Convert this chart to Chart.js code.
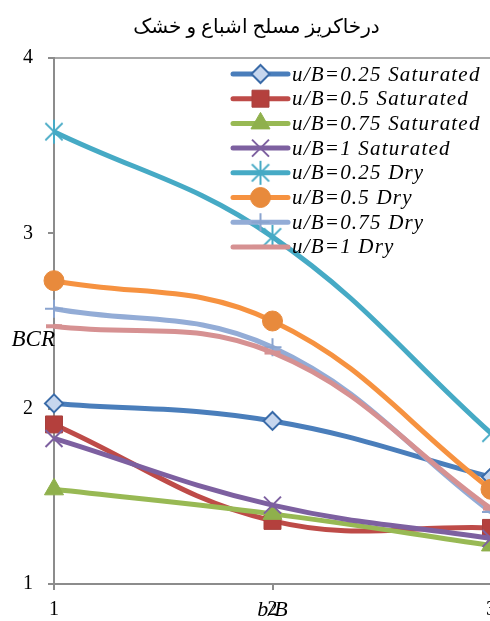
<!DOCTYPE html>
<html>
<head>
<meta charset="utf-8">
<script src="https://cdn.jsdelivr.net/npm/chart.js@4/dist/chart.umd.min.js"></script>
<style>
  html, body { margin: 0; padding: 0; overflow: hidden; background: #fff; width: 490px; height: 621px; }
  canvas { display: block; }
</style>
</head>
<body>
<canvas id="c" width="505" height="621" style="width:505px;height:621px"></canvas>
<script>
// b/B positions on the category axis
const categories = ['1', '2', '3'];
const yTicks = [1, 2, 3, 4];

// BCR values per u/B ratio
const sat025 = [2.03, 1.93, 1.61];
const sat05  = [1.91, 1.36, 1.32];
const sat075 = [1.54, 1.40, 1.22];
const sat1   = [1.83, 1.45, 1.26];
const dry025 = [3.58, 2.98, 1.86];
const dry05  = [2.73, 2.50, 1.54];
const dry075 = [2.57, 2.35, 1.41];
const dry1   = [2.47, 2.32, 1.43];

const seriesNames = [
  'u/B=0.25 Saturated', 'u/B=0.5 Saturated', 'u/B=0.75 Saturated', 'u/B=1 Saturated',
  'u/B=0.25 Dry', 'u/B=0.5 Dry', 'u/B=0.75 Dry', 'u/B=1 Dry'
];
const seriesValues = [sat025, sat05, sat075, sat1, dry025, dry05, dry075, dry1];
const titleText = 'درخاکریز مسلح اشباع و خشک';

// asterisk marker: an X with a vertical bar through it
function makeStar(color, r) {
  const cv = document.createElement('canvas');
  const s = Math.ceil(r * 2 + 4);
  cv.width = s; cv.height = s;
  const g = cv.getContext('2d');
  const c = s / 2, d = r * 0.72;
  g.strokeStyle = color; g.lineWidth = 2; g.lineCap = 'butt';
  g.beginPath();
  g.moveTo(c - d, c - d); g.lineTo(c + d, c + d);
  g.moveTo(c + d, c - d); g.lineTo(c - d, c + d);
  g.moveTo(c, c - r); g.lineTo(c, c + r);
  g.stroke();
  return cv;
}

const styles = [
  { line: '#4A7EBB', fill: '#C6D6EE', border: '#3A6BA8', point: 'rectRot', r: 9, bw: 2 },
  { line: '#BE4B48', fill: '#B4403D', border: '#A8403D', point: 'rect', r: 12, bw: 1 },
  { line: '#98B954', fill: '#8FB04C', border: '#8FB04C', point: 'triangle', r: 11, bw: 1 },
  { line: '#7D60A0', fill: '#7D60A0', border: '#7D60A0', point: 'crossRot', r: 12, bw: 2 },
  { line: '#46AAC5', fill: '#46AAC5', border: '#46AAC5', point: makeStar('#46AAC5', 12), r: 12, bw: 2 },
  { line: '#F69240', fill: '#E88A3C', border: '#E88A3C', point: 'circle', r: 10, bw: 1 },
  { line: '#93ACD6', fill: '#93ACD6', border: '#8AA4CF', point: 'cross', r: 9, bw: 2 },
  { line: '#D69192', fill: '#D69192', border: '#D69192', point: 'line', r: 8, bw: 4 }
];

const datasets = seriesValues.map((vals, i) => ({
  label: seriesNames[i],
  data: vals,
  borderColor: styles[i].line,
  backgroundColor: styles[i].fill,
  borderWidth: 5,
  tension: 0.4,
  pointStyle: styles[i].point,
  pointRadius: styles[i].r,
  pointBackgroundColor: styles[i].fill,
  pointBorderColor: styles[i].border,
  pointBorderWidth: styles[i].bw,
  clip: false,
  order: seriesValues.length - i
}));

const axisGray = '#8C8C8C';

// frame on top/right of the plot, axis captions and the in-plot legend
const decorations = {
  id: 'decorations',
  beforeDatasetsDraw(chart) {
    const { ctx, chartArea: a } = chart;
    ctx.save();
    ctx.strokeStyle = axisGray;
    ctx.lineWidth = 1.5;
    ctx.beginPath();
    ctx.moveTo(a.left, a.top);
    ctx.lineTo(a.right, a.top);
    ctx.lineTo(a.right, a.bottom);
    ctx.stroke();
    ctx.restore();
  },
  afterDatasetsDraw(chart) {
    const { ctx, chartArea: a } = chart;
    const xs = chart.scales.x;
    ctx.save();
    ctx.fillStyle = '#000';
    ctx.font = 'italic 23px "Liberation Serif", serif';
    ctx.textBaseline = 'middle';
    ctx.textAlign = 'right';
    ctx.fillText('BCR', a.left + 1, 340);
    ctx.font = 'italic 22px "Liberation Serif", serif';
    ctx.textAlign = 'center';
    ctx.fillText('b/B', xs.getPixelForValue(1), 610);

    // legend
    const x0 = 233, x1 = 288, tx = 292, y0 = 74, dy = 24.7;
    chart.data.datasets.forEach((ds, i) => {
      const y = y0 + i * dy;
      ctx.strokeStyle = ds.borderColor;
      ctx.lineWidth = 5;
      ctx.lineCap = 'round';
      ctx.beginPath();
      ctx.moveTo(x0, y); ctx.lineTo(x1, y);
      ctx.stroke();
      ctx.lineCap = 'butt';
      ctx.fillStyle = ds.pointBackgroundColor;
      ctx.strokeStyle = ds.pointBorderColor;
      ctx.lineWidth = ds.pointBorderWidth;
      Chart.helpers.drawPoint(ctx, {
        pointStyle: ds.pointStyle, radius: ds.pointRadius,
        borderWidth: ds.pointBorderWidth, rotation: 0
      }, (x0 + x1) / 2, y);
      ctx.fillStyle = '#000';
      ctx.font = 'italic 21px "Liberation Serif", serif';
      ctx.letterSpacing = '1.2px';
      ctx.textAlign = 'left';
      ctx.textBaseline = 'middle';
      ctx.fillText(ds.label, tx, y + 1);
      ctx.letterSpacing = '0px';
    });
    ctx.restore();
  }
};

new Chart(document.getElementById('c'), {
  type: 'line',
  data: { labels: categories, datasets },
  options: {
    responsive: false,
    animation: false,
    events: [],
    layout: { padding: { left: 8, right: 0, top: 0, bottom: -9 } },
    plugins: {
      legend: { display: false },
      tooltip: { enabled: false },
      title: {
        display: true,
        text: titleText,
        color: '#000',
        font: { family: '"Liberation Serif", "DejaVu Sans", serif', size: 20, weight: 'normal' },
        padding: { top: 16, bottom: 18 }
      }
    },
    scales: {
      x: {
        type: 'category',
        offset: false,
        grid: { display: true, drawOnChartArea: false, drawTicks: true, tickLength: 6, color: axisGray, lineWidth: 2 },
        border: { display: true, color: axisGray, width: 2 },
        ticks: { color: '#000', padding: 8, maxRotation: 0, font: { family: '"Liberation Serif", serif', size: 20 } }
      },
      y: {
        min: 1, max: 4,
        afterBuildTicks(scale) { scale.ticks = yTicks.map(v => ({ value: v })); },
        grid: { display: true, drawOnChartArea: false, drawTicks: true, tickLength: 6, color: axisGray, lineWidth: 2 },
        border: { display: true, color: axisGray, width: 2 },
        ticks: { color: '#000', padding: 15, font: { family: '"Liberation Serif", serif', size: 20 } }
      }
    }
  },
  plugins: [decorations]
});
</script>
</body>
</html>
